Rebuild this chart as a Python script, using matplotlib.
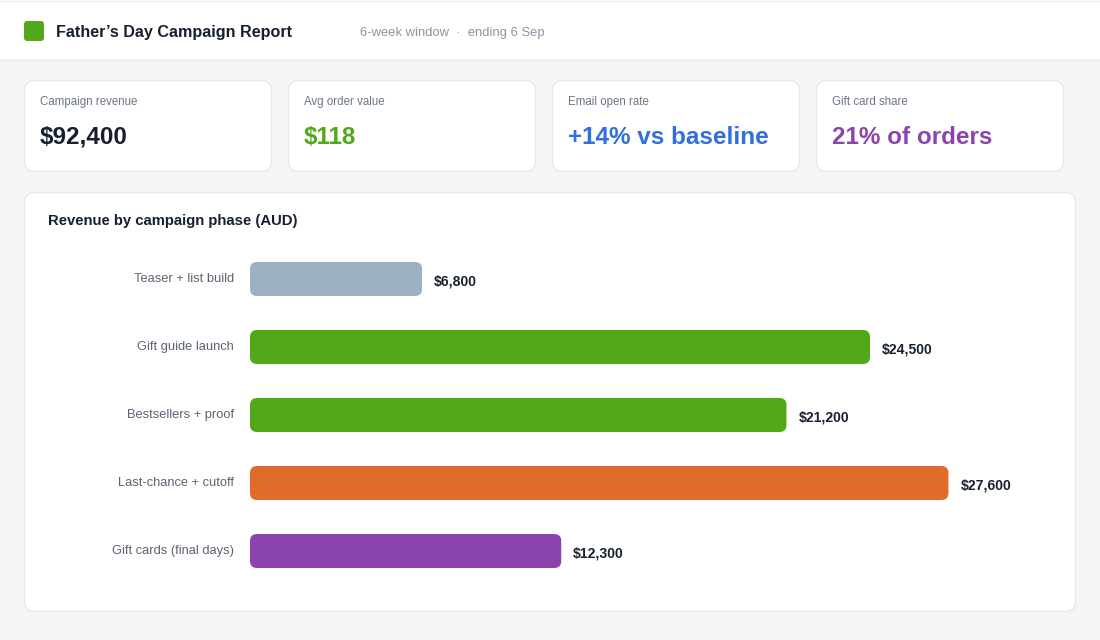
import matplotlib
matplotlib.use("Agg")
import matplotlib.pyplot as plt
from matplotlib.patches import FancyBboxPatch, Rectangle

plt.rcParams['font.family'] = ['Liberation Sans', 'DejaVu Sans']

# ---- data ----
title = "Father\u2019s Day Campaign Report"
subtitle = "6-week window  \u00b7  ending 6 Sep"
kpi_labels = ["Campaign revenue", "Avg order value", "Email open rate", "Gift card share"]
kpi_values = ["$92,400", "$118", "+14% vs baseline", "21% of orders"]
kpi_colors = ["#16202e", "#52a818", "#2f6fdf", "#8b44ad"]
chart_title = "Revenue by campaign phase (AUD)"
phases = ["Teaser + list build", "Gift guide launch", "Bestsellers + proof",
          "Last-chance + cutoff", "Gift cards (final days)"]
revenue = [6800, 24500, 21200, 27600, 12300]
bar_colors = ["#9db1c3", "#52a818", "#52a818", "#e06c2c", "#8b44ad"]

W, H = 1100, 640
fig = plt.figure(figsize=(W / 100, H / 100), dpi=100)
fig.patch.set_facecolor("#f4f5f7")

bg = fig.add_axes([0, 0, 1, 1])
bg.set_xlim(0, W)
bg.set_ylim(H, 0)
bg.axis("off")

# header
bg.add_patch(Rectangle((0, 0), W, 59, facecolor="white", edgecolor="none"))
bg.plot([0, W], [59.5, 59.5], color="#e4e7eb", lw=1)
bg.plot([0, W], [0.5, 0.5], color="#eceef1", lw=1)
bg.add_patch(FancyBboxPatch((24, 21), 20, 20, boxstyle="round,pad=0,rounding_size=3.5",
                            facecolor="#52a818", edgecolor="none"))
bg.text(56, 32, title, fontsize=11.6, fontweight="bold", color="#16202e", va="center", ha="left")
bg.text(360, 33, subtitle, fontsize=9.4, color="#8a94a3", va="center", ha="left")

# KPI cards
card_x = [24, 288, 552, 816]
for i, x in enumerate(card_x):
    bg.add_patch(FancyBboxPatch((x + 0.5, 80.5), 247, 91, boxstyle="round,pad=0,rounding_size=10",
                                facecolor="white", edgecolor="#e6e9ed", lw=1))
    bg.text(x + 16, 102, kpi_labels[i], fontsize=8.3, color="#6b7686", va="center", ha="left")
    bg.text(x + 16, 137, kpi_values[i], fontsize=17.5, fontweight="bold", color=kpi_colors[i],
            va="center", ha="left")

# chart card
bg.add_patch(FancyBboxPatch((24.5, 192.5), 1051, 419, boxstyle="round,pad=0,rounding_size=10",
                            facecolor="white", edgecolor="#e6e9ed", lw=1))
bg.text(48, 221, chart_title, fontsize=10.7, fontweight="bold", color="#16202e", va="center", ha="left")

# bar axes: x0 at px 250, bars centered every 68px from y=279
px_per_unit = 620 / 24500
ax_left, ax_w = 250, 800
ax_top, ax_bot = 245, 585
ax = fig.add_axes([ax_left / W, (H - ax_bot) / H, ax_w / W, (ax_bot - ax_top) / H])
ax.set_xlim(0, ax_w / px_per_unit)
ax.set_ylim(len(phases) - 0.5, -0.5)
ax.axis("off")
ax.patch.set_alpha(0)

bars = ax.barh(range(len(phases)), revenue, height=0.5, color=bar_colors)
px_per_y = (ax_bot - ax_top) / len(phases)
r_px = 7
r_x = r_px / px_per_unit
aspect = (r_px / px_per_y) / r_x
for b, c in zip(bars, bar_colors):
    b.set_visible(False)
    ax.add_patch(FancyBboxPatch((b.get_x(), b.get_y()), b.get_width(), b.get_height(),
                                boxstyle=f"round,pad=0,rounding_size={r_x}",
                                mutation_aspect=aspect, facecolor=c, edgecolor="none"))

for i, (name, v) in enumerate(zip(phases, revenue)):
    ax.text(v + 12 / px_per_unit, i + 2 / px_per_y, f"${v:,}", fontsize=10.1, fontweight="bold",
            color="#16202e", va="center", ha="left")
    ax.text(-16 / px_per_unit, i + 0 / px_per_y, name, fontsize=9.3, color="#5b6472",
            va="center", ha="right", clip_on=False)

fig.savefig("out.png", dpi=100, facecolor=fig.get_facecolor())
